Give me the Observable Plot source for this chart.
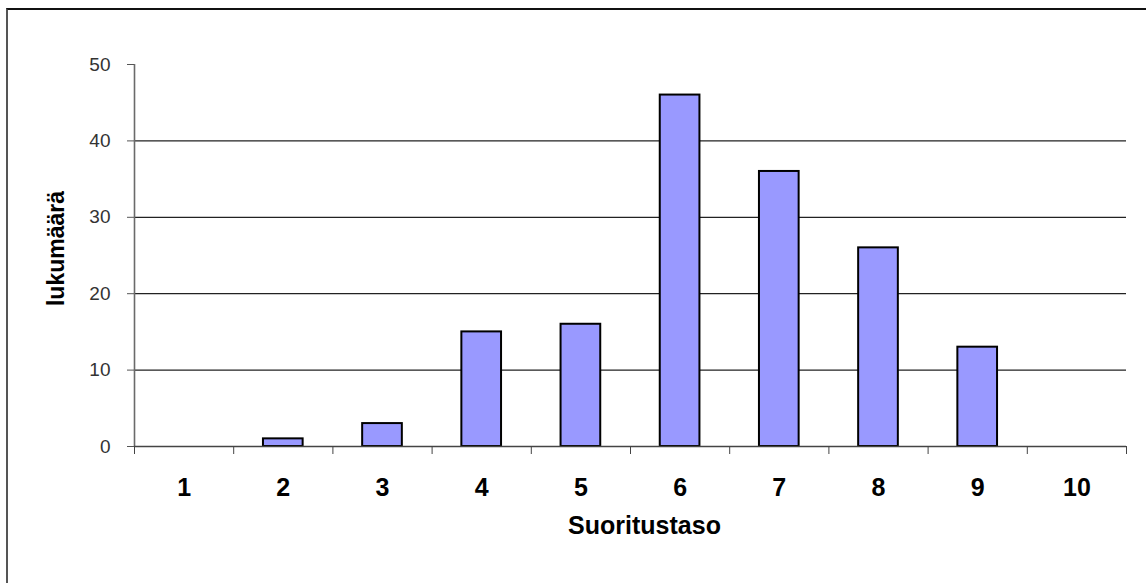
<!DOCTYPE html>
<html>
<head>
<meta charset="utf-8">
<script src="https://cdn.jsdelivr.net/npm/d3@7"></script>
<script src="https://cdn.jsdelivr.net/npm/@observablehq/plot@0.6"></script>
<style>
  html, body { margin: 0; padding: 0; background: #fff; overflow: hidden; width: 1146px; height: 583px; }
  #border { position: absolute; left: 6px; top: 8px; width: 2000px; height: 2000px;
            border-left: 2px solid #555; border-top: 2px solid #111; box-sizing: border-box; }
  #chart { position: absolute; left: 0; top: 0; }
</style>
</head>
<body>
<div id="border"></div>
<div id="chart"></div>
<script>
const categories = ["1", "2", "3", "4", "5", "6", "7", "8", "9", "10"];
const counts = [0, 1, 3, 15, 16, 46, 36, 26, 13, 0];
const yTicks = [0, 10, 20, 30, 40, 50];
const gridValues = [10, 20, 30, 40];
const xTitle = "Suoritustaso";
const yTitle = "lukumäärä";

const data = categories.map((c, i) => ({pos: i + 1, label: c, count: counts[i]}));
const positions = data.map(d => d.pos);
const boundaries = d3.range(0.5, categories.length + 1, 1);

const chart = Plot.plot({
  width: 1146,
  height: 583,
  marginLeft: 134,
  marginRight: 20,
  marginTop: 64,
  marginBottom: 137,
  x: {domain: [0.5, categories.length + 0.5], axis: null},
  y: {domain: [0, 50], axis: null},
  style: {fontFamily: "'Liberation Sans', Arial, sans-serif", background: "transparent", color: "#111"},
  marks: [
    Plot.ruleY(gridValues, {stroke: "#222", strokeWidth: 1.2}),
    Plot.rectY(data.filter(d => d.count > 0), {
      x1: d => d.pos - 0.2, x2: d => d.pos + 0.2, y: "count",
      fill: "#9999ff", stroke: "#000", strokeWidth: 2
    }),
    Plot.ruleX([0.5], {y1: 0, y2: 50, stroke: "#6a6a6a", strokeWidth: 1.6}),
    Plot.ruleY([0], {stroke: "#444", strokeWidth: 1.6}),
    Plot.axisY({ticks: yTicks, tickSize: 7, tickPadding: 17, fontSize: 19, stroke: "#555", fill: "#333", label: null}),
    Plot.axisX({ticks: boundaries, tickSize: 8, tickPadding: 0, tickFormat: () => "", stroke: "#444", label: null}),
    Plot.axisX({ticks: positions, tickSize: 0, tickPadding: 32, tickFormat: p => categories[p - 1],
                fontSize: 25, fontWeight: "bold", fill: "#000", label: null}),
    Plot.text([xTitle], {frameAnchor: "bottom", dx: 14, dy: 87, fontSize: 25, fontWeight: "bold", fill: "#000"}),
    Plot.text([yTitle], {frameAnchor: "left", textAnchor: "middle", rotate: -90, dx: -78, dy: -7,
                         fontSize: 23, fontWeight: "bold", fill: "#000"})
  ]
});
document.getElementById("chart").appendChild(chart);
</script>
</body>
</html>
